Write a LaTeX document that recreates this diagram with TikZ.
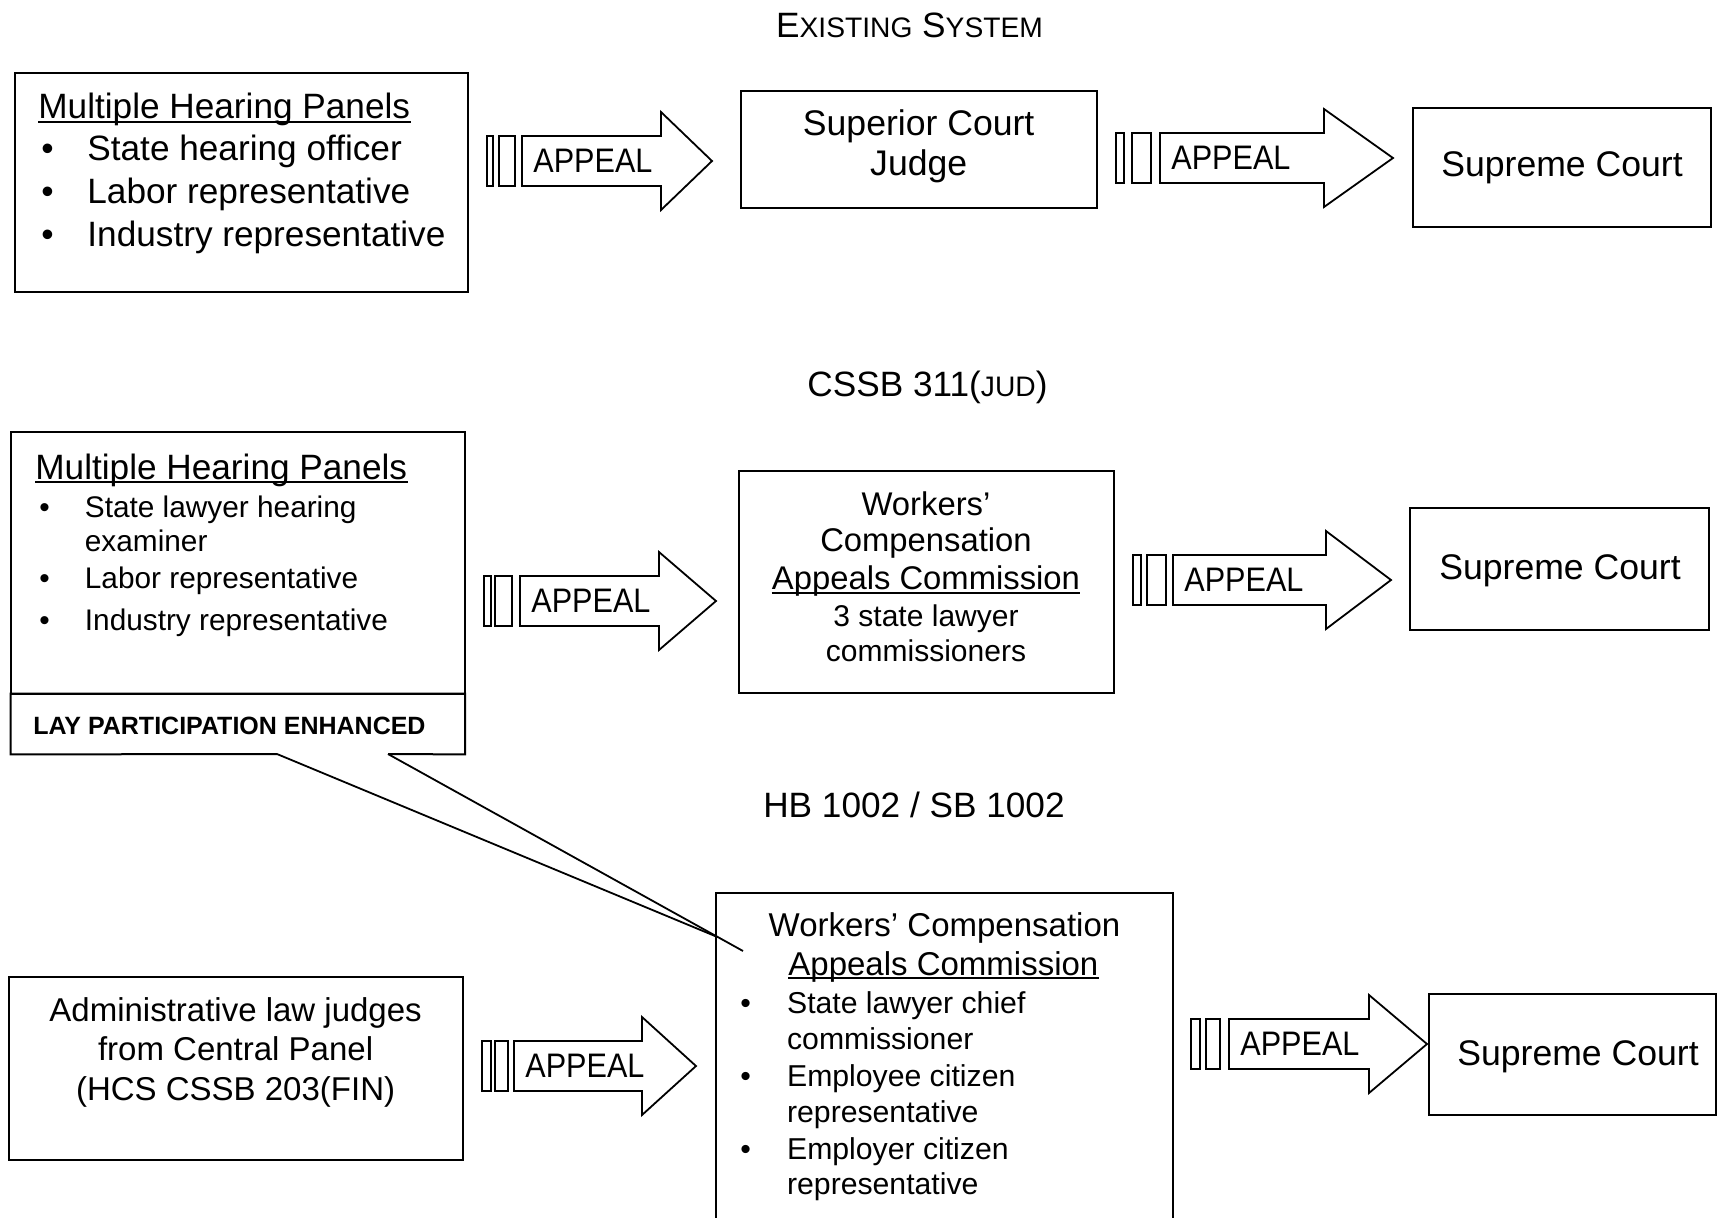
\documentclass[tikz,border=0pt]{standalone}
\usepackage{fontspec}
\setmainfont{Liberation Sans}
\newfontfamily\apfont[FakeStretch=0.9]{Liberation Sans}
\usetikzlibrary{fit}
\newcommand\fs[2]{\fontsize{#1}{#2}\selectfont}
\tikzset{
  boxst/.style={draw, line width=1pt, inner sep=0pt},
  txt/.style={inner sep=0pt, anchor=base},
  txtl/.style={inner sep=0pt, anchor=base west},
  arr/.style={draw, line width=0.9pt, fill=white},
  uln/.style={line width=0.8pt},
  callout/.style={line width=0.9pt},
}
\newcommand\mkbox[5]{\path (#2,#3) coordinate (#1-a) (#4,#5) coordinate (#1-b);
  \node[boxst, fit=(#1-a)(#1-b)] (#1) {};}
\newcommand\mkarrow[9]{%
  \draw[arr] (#2,#9-25) rectangle (#3,#9+25);
  \draw[arr] (#4,#9-25) rectangle (#5,#9+25);
  \draw[arr] (#6,#9-25) -- (#7,#9-25) -- (#7,#9-49) -- (#8,#9) -- (#7,#9+49) -- (#7,#9+25) -- (#6,#9+25) -- cycle;
  \node[inner sep=0pt, anchor=west, font=\apfont\fs{17}{20}] (#1) at (#6+11,#9) {APPEAL};}
\newcommand\bl[5]{\node[txtl] (#1b) at (#2,#4) {•}; \node[txtl] (#1) at (#3,#4) {#5};}
\newcommand\ul[1]{\draw[uln] ([yshift=-1.6pt]#1.base west) -- ([yshift=-1.6pt]#1.base east);}
\begin{document}
\begin{tikzpicture}[x=0.5pt,y=-0.5pt]
\useasboundingbox (0,0) rectangle (1718,1217);
\clip (0,0) rectangle (1718,1217);
\fill[white] (0,0) rectangle (1718,1217);

% titles
\node[txt, font=\fs{17.6}{20}] (t1) at (909.5,37) {E{\fs{14.1}{16}XISTING} S{\fs{14.1}{16}YSTEM}};
\node[txt, font=\fs{17.6}{20}] (t2) at (927.5,396.6) {CSSB 311({\fs{14.1}{16}JUD})};
\node[txt, font=\fs{17.6}{20}] (t3) at (914,817.4) {HB 1002 / SB 1002};

% ===== Row A =====
\mkbox{a1}{14.5}{73.3}{468}{291.7}
\begin{scope}[font=\fs{17.6}{20}]
\node[txtl] (a1h) at (38,118.5) {Multiple Hearing Panels};
\ul{a1h}
\bl{a1i1}{41}{87}{160}{State hearing officer}
\bl{a1i2}{41}{87}{203}{Labor representative}
\bl{a1i3}{41}{87}{246}{Industry representative}
\end{scope}
\mkarrow{apA1}{487}{493}{499}{515}{522}{661}{712}{161}
\mkbox{a2}{740.7}{91}{1096.8}{208}
\node[txt, font=\fs{17.8}{20}] (a2l1) at (918.7,135) {Superior Court};
\node[txt, font=\fs{17.8}{20}] (a2l2) at (918.7,175) {Judge};
\mkarrow{apA2}{1116}{1124}{1132}{1151}{1160}{1324}{1393}{158}
\mkbox{a3}{1412.8}{108.3}{1711.4}{226.7}
\node[txt, font=\fs{17.8}{20}] (a3t) at (1562,176) {Supreme Court};

% ===== Row B =====
\mkbox{b1}{11}{432}{464.6}{694}
\path (11,694) coordinate (lay-a) (464.6,754) coordinate (lay-b);
\node[inner sep=0pt, fit=(lay-a)(lay-b)] (lay) {};
\node[txtl, font=\bfseries\fs{12.5}{14}] (layt) at (33,734) {LAY PARTICIPATION ENHANCED};
\node[txtl, font=\fs{17.6}{20}] (b1h) at (35,479) {Multiple Hearing Panels};
\ul{b1h}
\begin{scope}[font=\fs{14.9}{17}]
\bl{b1i1}{39}{84.5}{517}{State lawyer hearing}
\node[txtl] (b1i1x) at (84.5,551) {examiner};
\bl{b1i2}{39}{84.5}{588}{Labor representative}
\bl{b1i3}{39}{84.5}{630}{Industry representative}
\end{scope}
\mkarrow{apB1}{484}{491}{495}{512}{520}{659}{716}{601}
\mkbox{b2}{738.5}{471.2}{1114.3}{692.5}
\begin{scope}[font=\fs{16.4}{19}]
\node[txt] (b2l1) at (926,515) {Workers’};
\node[txt] (b2l2) at (926,551) {Compensation};
\node[txt] (b2l3) at (926,589.5) {Appeals Commission};
\ul{b2l3}
\end{scope}
\begin{scope}[font=\fs{15}{17}]
\node[txt] (b2l4) at (926,626.7) {3 state lawyer};
\node[txt] (b2l5) at (926,661.8) {commissioners};
\end{scope}
\mkarrow{apB2}{1133}{1141}{1147}{1166}{1173}{1326}{1391}{580}
\mkbox{b3}{1410}{508.4}{1709.3}{630}
\node[txt, font=\fs{17.8}{20}] (b3t) at (1560,579) {Supreme Court};

% ===== Row C =====
\mkbox{c1}{8.7}{977}{463}{1160}
\begin{scope}[font=\fs{16.5}{19}]
\node[txt] (c1l1) at (235.6,1021) {Administrative law judges};
\node[txt] (c1l2) at (235.6,1060.5) {from Central Panel};
\node[txt] (c1l3) at (235.6,1100.5) {(HCS CSSB 203(FIN)};
\end{scope}
\mkarrow{apC1}{482}{491}{495}{508}{514}{642}{696}{1066}
\mkbox{c2}{716.4}{893}{1172.5}{1240}
\begin{scope}[font=\fs{16.5}{19}]
\node[txt] (c2h1) at (944.5,936) {Workers’ Compensation};
\node[txt] (c2h2) at (943.4,975) {Appeals Commission};
\ul{c2h2}
\end{scope}
\begin{scope}[font=\fs{15.1}{17}]
\bl{c2i1}{740}{786.7}{1013}{State lawyer chief}
\node[txtl] (c2i1x) at (786.7,1049) {commissioner};
\bl{c2i2}{740}{786.7}{1086}{Employee citizen}
\node[txtl] (c2i2x) at (786.7,1122) {representative};
\bl{c2i3}{740}{786.7}{1159}{Employer citizen}
\node[txtl] (c2i3x) at (786.7,1194) {representative};
\end{scope}
\mkarrow{apC2}{1191}{1200}{1206}{1220}{1229}{1369}{1427}{1044}
\mkbox{c3}{1428.6}{993.8}{1716}{1115.4}
\node[txt, font=\fs{17.8}{20}] (c3t) at (1578,1065) {Supreme Court};

% callout: lay strip border opened where the pointer leaves it
\coordinate (cl1) at (277,754);
\coordinate (cl2) at (388,754);
\coordinate (clx) at (716.7,936.7);
\coordinate (cly) at (743,951);
\draw[boxst] (cl1) -- (lay.south west) -- (lay.north west) -- (lay.north east) -- (lay.south east) -- (cl2);
\draw[callout] (cl1) -- (clx);
\draw[callout] (cl2) -- (cly);
\end{tikzpicture}
\end{document}
